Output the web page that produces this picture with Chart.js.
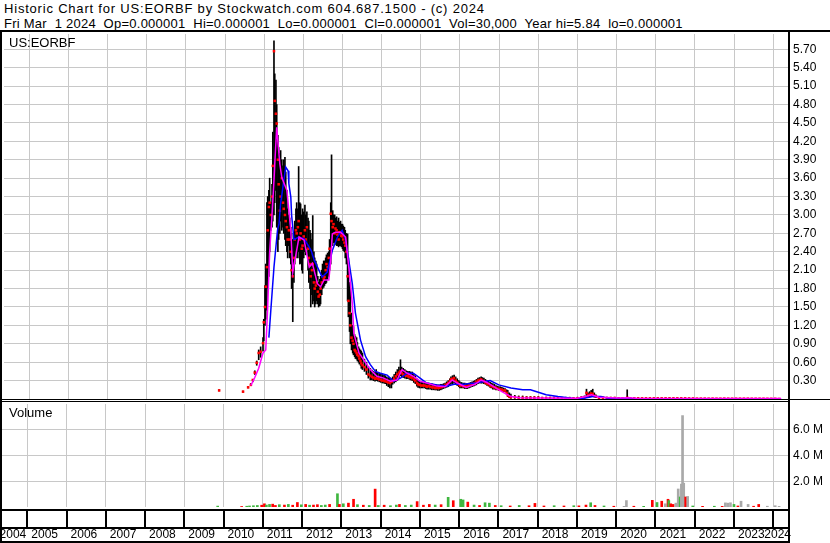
<!DOCTYPE html>
<html>
<head>
<meta charset="utf-8">
<script src="https://cdn.jsdelivr.net/npm/chart.js@4.4.1/dist/chart.umd.min.js"></script>
<style>
  body { margin: 0; background: #fff; }
  #wrap { position: relative; width: 830px; height: 543px; overflow: hidden; background: #fff; font-family: 'Liberation Sans', Arial, sans-serif; }
  .head { position: absolute; left: 4px; font-size: 13px; line-height: 15px; white-space: pre; color: #000; }
  #head1 { top: 1px; letter-spacing: 0.8px; }
  #head2 { top: 16px; letter-spacing: 0.25px; }
  canvas { position: absolute; left: 0; }
  #priceChart { top: 30px; }
  #volChart { top: 403px; }
</style>
</head>
<body>
<div id="wrap">
  <div class="head" id="head1">Historic Chart for US:EORBF by Stockwatch.com 604.687.1500 - (c) 2024</div>
  <div class="head" id="head2">Fri Mar  1 2024  Op=0.000001  Hi=0.000001  Lo=0.000001  Cl=0.000001  Vol=30,000  Year hi=5.84  lo=0.000001</div>
  <canvas id="priceChart" width="830" height="373"></canvas>
  <canvas id="volChart" width="830" height="140"></canvas>
</div>
<script>
/* Chart data (dates as decimal years). */
const yearLines = [2005, 2006, 2007, 2008, 2009, 2010, 2011, 2012, 2013, 2014, 2015, 2016, 2017, 2018, 2019, 2020, 2021, 2022, 2023, 2024];
const yearLabels = ['2004', '2005', '2006', '2007', '2008', '2009', '2010', '2011', '2012', '2013', '2014', '2015', '2016', '2017', '2018', '2019', '2020', '2021', '2022', '2023', '2024'];
const priceTicks = [0.3, 0.6, 0.9, 1.2, 1.5, 1.8, 2.1, 2.4, 2.7, 3.0, 3.3, 3.6, 3.9, 4.2, 4.5, 4.8, 5.1, 5.4, 5.7];
const volumeTicks = [2, 4, 6];

const barDates = [
	2009.85, 2010.46, 2010.59, 2010.66, 2010.71, 2010.76, 2010.81, 2010.86, 2010.91, 2010.97,
	2010.99, 2011.02, 2011.04, 2011.07, 2011.09, 2011.12, 2011.14, 2011.17, 2011.20, 2011.22,
	2011.25, 2011.27, 2011.30, 2011.32, 2011.35, 2011.37, 2011.40, 2011.42, 2011.45, 2011.48,
	2011.50, 2011.53, 2011.55, 2011.58, 2011.60, 2011.63, 2011.65, 2011.68, 2011.70, 2011.73,
	2011.76, 2011.78, 2011.81, 2011.83, 2011.86, 2011.88, 2011.91, 2011.93, 2011.96, 2011.98,
	2012.01, 2012.04, 2012.06, 2012.09, 2012.12, 2012.14, 2012.17, 2012.19, 2012.22, 2012.24,
	2012.27, 2012.29, 2012.32, 2012.34, 2012.37, 2012.39, 2012.42, 2012.44, 2012.47, 2012.49,
	2012.52, 2012.54, 2012.57, 2012.59, 2012.62, 2012.65, 2012.67, 2012.70, 2012.72, 2012.75,
	2012.77, 2012.80, 2012.82, 2012.85, 2012.87, 2012.90, 2012.92, 2012.95, 2012.97, 2013.00,
	2013.02, 2013.05, 2013.07, 2013.10, 2013.13, 2013.15, 2013.18, 2013.20, 2013.23, 2013.26,
	2013.28, 2013.31, 2013.33, 2013.36, 2013.38, 2013.41, 2013.43, 2013.46, 2013.48, 2013.51,
	2013.56, 2013.61, 2013.66, 2013.71, 2013.75, 2013.79, 2013.83, 2013.86, 2013.90, 2013.94,
	2013.98, 2014.02, 2014.06, 2014.09, 2014.13, 2014.17, 2014.21, 2014.25, 2014.28, 2014.32,
	2014.36, 2014.40, 2014.44, 2014.48, 2014.51, 2014.55, 2014.59, 2014.63, 2014.67, 2014.71,
	2014.74, 2014.78, 2014.82, 2014.86, 2014.90, 2014.93, 2014.97, 2015.01, 2015.05, 2015.09,
	2015.13, 2015.16, 2015.20, 2015.24, 2015.28, 2015.32, 2015.36, 2015.39, 2015.43, 2015.47,
	2015.51, 2015.54, 2015.58, 2015.62, 2015.66, 2015.70, 2015.74, 2015.77, 2015.81, 2015.85,
	2015.89, 2015.93, 2015.97, 2016.00, 2016.04, 2016.08, 2016.12, 2016.16, 2016.19, 2016.23,
	2016.27, 2016.31, 2016.35, 2016.38, 2016.42, 2016.46, 2016.50, 2016.54, 2016.57, 2016.61,
	2016.65, 2016.69, 2016.73, 2016.77, 2016.80, 2016.84, 2016.88, 2016.92, 2016.96, 2016.99,
	2017.03, 2017.07, 2017.11, 2017.15, 2017.19, 2017.22, 2017.26, 2017.30, 2017.40, 2017.50,
	2017.60, 2017.70, 2017.80, 2017.90, 2018.00, 2018.10, 2018.20, 2018.30, 2018.40, 2018.50,
	2018.60, 2018.70, 2018.80, 2018.90, 2019.00, 2019.10, 2019.18, 2019.23, 2019.27, 2019.31,
	2019.35, 2019.39, 2019.43, 2019.47, 2019.55, 2019.65, 2019.75, 2019.85, 2019.95, 2020.05,
	2020.15, 2020.27, 2020.35, 2020.45, 2020.55, 2020.65, 2020.75, 2020.85, 2020.95, 2021.05,
	2021.15, 2021.25, 2021.35, 2021.45, 2021.55, 2021.65, 2021.75, 2021.85, 2021.95, 2022.05,
	2022.15, 2022.25, 2022.35, 2022.45, 2022.55, 2022.65, 2022.75, 2022.85, 2022.95, 2023.05,
	2023.15, 2023.25, 2023.35, 2023.45, 2023.55, 2023.65, 2023.75, 2023.85, 2023.95, 2024.05,
	2024.15
];
const barHigh = [
	0.15, 0.13, 0.20, 0.25, 0.32, 0.46, 0.62, 0.80, 0.85, 1.00,
	1.30, 1.85, 2.20, 3.20, 3.30, 3.40, 3.60, 3.20, 3.50, 4.35,
	5.84, 5.30, 5.20, 4.80, 4.30, 4.10, 4.00, 4.05, 3.90, 3.80,
	3.90, 3.94, 3.70, 3.40, 3.10, 3.00, 2.95, 2.80, 2.70, 2.60,
	2.70, 2.90, 3.10, 3.20, 3.10, 3.79, 3.20, 3.18, 3.00, 3.10,
	3.05, 3.16, 3.00, 3.05, 2.95, 2.90, 2.75, 2.70, 2.60, 2.99,
	2.40, 2.30, 2.25, 2.20, 2.00, 1.90, 1.95, 2.00, 2.10, 2.20,
	2.25, 2.25, 2.30, 2.35, 2.38, 2.40, 2.60, 3.20, 3.98, 3.07,
	3.00, 3.00, 2.95, 2.97, 2.90, 2.95, 2.88, 2.90, 2.85, 2.85,
	2.82, 2.80, 2.75, 2.70, 2.69, 2.30, 1.90, 1.88, 1.40, 1.20,
	1.18, 1.05, 1.02, 1.00, 0.92, 0.85, 0.82, 0.80, 0.78, 0.75,
	0.65, 0.60, 0.53, 0.50, 0.47, 0.45, 0.44, 0.48, 0.43, 0.42,
	0.41, 0.40, 0.39, 0.38, 0.36, 0.35, 0.34, 0.33, 0.36, 0.40,
	0.44, 0.48, 0.52, 0.64, 0.52, 0.50, 0.48, 0.46, 0.45, 0.45,
	0.44, 0.44, 0.40, 0.38, 0.33, 0.30, 0.29, 0.28, 0.28, 0.27,
	0.27, 0.26, 0.26, 0.25, 0.25, 0.24, 0.24, 0.23, 0.23, 0.23,
	0.24, 0.24, 0.25, 0.26, 0.28, 0.30, 0.33, 0.36, 0.38, 0.39,
	0.36, 0.33, 0.30, 0.28, 0.27, 0.26, 0.26, 0.25, 0.25, 0.26,
	0.27, 0.28, 0.29, 0.30, 0.32, 0.34, 0.35, 0.36, 0.35, 0.34,
	0.32, 0.30, 0.29, 0.27, 0.26, 0.25, 0.24, 0.22, 0.21, 0.20,
	0.20, 0.19, 0.18, 0.17, 0.15, 0.14, 0.10, 0.08, 0.06, 0.05,
	0.05, 0.04, 0.04, 0.04, 0.04, 0.03, 0.03, 0.03, 0.03, 0.03,
	0.03, 0.03, 0.03, 0.02, 0.03, 0.04, 0.05, 0.16, 0.10, 0.12,
	0.14, 0.16, 0.10, 0.07, 0.04, 0.03, 0.03, 0.03, 0.03, 0.02,
	0.02, 0.15, 0.02, 0.02, 0.02, 0.02, 0.02, 0.02, 0.02, 0.02,
	0.02, 0.02, 0.02, 0.02, 0.02, 0.02, 0.02, 0.015, 0.015, 0.012,
	0.012, 0.012, 0.011, 0.012, 0.010, 0.011, 0.012, 0.010, 0.011, 0.010,
	0.010, 0.011, 0.010, 0.009, 0.010, 0.009, 0.008, 0.009, 0.008, 0.008,
	0.002
];
const barLow = [
	0.13, 0.11, 0.18, 0.22, 0.28, 0.40, 0.55, 0.64, 0.68, 0.78,
	0.95, 1.20, 1.30, 1.45, 1.80, 2.00, 2.40, 2.75, 2.80, 2.90,
	3.00, 3.20, 3.40, 2.80, 2.40, 2.60, 2.70, 2.90, 2.75, 2.80,
	2.70, 2.60, 2.50, 2.40, 2.30, 2.50, 2.30, 2.20, 1.80, 1.26,
	1.90, 2.20, 2.30, 2.40, 2.30, 2.40, 2.20, 2.21, 2.10, 2.05,
	2.30, 2.40, 2.35, 2.45, 2.10, 1.90, 1.80, 1.50, 1.70, 1.55,
	1.60, 1.50, 1.55, 1.60, 1.55, 1.50, 1.52, 1.55, 1.70, 1.80,
	1.82, 1.85, 1.88, 1.90, 1.95, 2.00, 2.10, 2.20, 2.60, 2.50,
	2.55, 2.55, 2.52, 2.50, 2.50, 2.48, 2.50, 2.50, 2.48, 2.45,
	2.42, 2.40, 2.30, 2.20, 1.60, 1.34, 1.10, 0.90, 0.80, 0.75,
	0.72, 0.69, 0.66, 0.65, 0.62, 0.60, 0.57, 0.55, 0.50, 0.48,
	0.45, 0.40, 0.34, 0.31, 0.31, 0.30, 0.29, 0.30, 0.29, 0.28,
	0.27, 0.26, 0.26, 0.25, 0.22, 0.20, 0.18, 0.18, 0.24, 0.26,
	0.28, 0.30, 0.34, 0.38, 0.36, 0.35, 0.34, 0.33, 0.33, 0.32,
	0.31, 0.30, 0.27, 0.25, 0.21, 0.19, 0.18, 0.18, 0.18, 0.18,
	0.17, 0.16, 0.16, 0.16, 0.15, 0.15, 0.15, 0.15, 0.14, 0.14,
	0.15, 0.16, 0.17, 0.18, 0.19, 0.20, 0.22, 0.24, 0.25, 0.26,
	0.24, 0.22, 0.20, 0.18, 0.18, 0.18, 0.17, 0.17, 0.17, 0.18,
	0.19, 0.20, 0.21, 0.22, 0.23, 0.25, 0.26, 0.26, 0.26, 0.25,
	0.24, 0.22, 0.21, 0.19, 0.18, 0.16, 0.16, 0.15, 0.15, 0.14,
	0.14, 0.13, 0.12, 0.12, 0.08, 0.04, 0.02, 0.01, 0.01, 0.01,
	0.01, 0.01, 0.01, 0.005, 0.005, 0.005, 0.005, 0.005, 0.005, 0.005,
	0.005, 0.005, 0.005, 0.005, 0.005, 0.005, 0.01, 0.03, 0.03, 0.03,
	0.04, 0.04, 0.03, 0.02, 0.01, 0.005, 0.005, 0.005, 0.005, 0.005,
	0.005, 0.01, 0.005, 0.005, 0.005, 0.005, 0.005, 0.004, 0.004, 0.004,
	0.004, 0.004, 0.004, 0.004, 0.003, 0.003, 0.003, 0.003, 0.003, 0.002,
	0.002, 0.002, 0.002, 0.002, 0.002, 0.002, 0.002, 0.002, 0.002, 0.002,
	0.001, 0.001, 0.001, 0.001, 0.001, 0.001, 0.001, 0.001, 0.001, 0.001,
	0.000001
];
const barClose = [
	0.14, 0.12, 0.19, 0.23, 0.31, 0.43, 0.59, 0.75, 0.77, 0.91,
	1.25, 1.50, 1.83, 2.15, 2.75, 3.13, 3.20, 3.00, 3.30, 3.80,
	5.67, 4.86, 4.65, 4.49, 3.90, 3.50, 3.07, 3.30, 3.60, 3.20,
	3.10, 3.00, 2.90, 2.80, 2.60, 2.75, 2.60, 2.40, 2.10, 2.00,
	2.30, 2.60, 2.75, 2.70, 2.80, 2.90, 2.60, 2.70, 2.45, 2.50,
	2.65, 2.75, 2.60, 2.80, 2.45, 2.30, 2.20, 2.00, 2.10, 2.20,
	1.90, 1.80, 1.85, 1.90, 1.75, 1.67, 1.70, 1.80, 1.90, 2.00,
	1.95, 1.99, 2.10, 2.20, 2.15, 2.30, 2.45, 3.02, 2.90, 2.80,
	2.85, 2.70, 2.78, 2.75, 2.68, 2.60, 2.72, 2.70, 2.66, 2.65,
	2.60, 2.55, 2.50, 2.40, 2.00, 1.60, 1.40, 1.20, 1.00, 0.95,
	0.90, 0.80, 0.78, 0.75, 0.72, 0.70, 0.66, 0.62, 0.58, 0.55,
	0.52, 0.48, 0.40, 0.38, 0.36, 0.35, 0.33, 0.34, 0.33, 0.32,
	0.31, 0.30, 0.30, 0.29, 0.28, 0.27, 0.26, 0.28, 0.30, 0.33,
	0.37, 0.40, 0.43, 0.45, 0.42, 0.40, 0.39, 0.38, 0.37, 0.36,
	0.35, 0.35, 0.32, 0.30, 0.26, 0.24, 0.23, 0.22, 0.22, 0.22,
	0.21, 0.20, 0.21, 0.20, 0.19, 0.19, 0.18, 0.18, 0.18, 0.18,
	0.19, 0.20, 0.21, 0.22, 0.24, 0.26, 0.29, 0.32, 0.33, 0.34,
	0.30, 0.27, 0.24, 0.22, 0.22, 0.21, 0.21, 0.20, 0.21, 0.22,
	0.23, 0.24, 0.25, 0.26, 0.28, 0.30, 0.31, 0.32, 0.30, 0.29,
	0.27, 0.25, 0.24, 0.22, 0.21, 0.20, 0.19, 0.18, 0.17, 0.16,
	0.16, 0.15, 0.14, 0.14, 0.10, 0.06, 0.04, 0.03, 0.03, 0.02,
	0.02, 0.02, 0.02, 0.02, 0.02, 0.015, 0.015, 0.015, 0.015, 0.01,
	0.01, 0.01, 0.01, 0.01, 0.01, 0.02, 0.03, 0.10, 0.06, 0.07,
	0.09, 0.08, 0.05, 0.04, 0.02, 0.02, 0.015, 0.015, 0.015, 0.01,
	0.01, 0.02, 0.01, 0.01, 0.01, 0.01, 0.01, 0.01, 0.01, 0.01,
	0.01, 0.01, 0.01, 0.01, 0.01, 0.01, 0.01, 0.008, 0.008, 0.006,
	0.006, 0.006, 0.005, 0.006, 0.005, 0.005, 0.006, 0.005, 0.005, 0.005,
	0.005, 0.005, 0.005, 0.004, 0.004, 0.004, 0.004, 0.003, 0.003, 0.003,
	0.000001
];

// Short (magenta) and long (blue) moving averages as drawn on the picture
const fastDates = [
	2010.66, 2010.76, 2010.86, 2010.97, 2011.04, 2011.09, 2011.14, 2011.20, 2011.25, 2011.27,
	2011.32, 2011.35, 2011.40, 2011.45, 2011.58, 2011.63, 2011.68, 2011.73, 2011.89, 2012.02,
	2012.15, 2012.23, 2012.36, 2012.44, 2012.53, 2012.65, 2012.70, 2012.74, 2012.82, 2012.95,
	2013.08, 2013.16, 2013.25, 2013.29, 2013.42, 2013.54, 2013.71, 2013.88, 2014.05, 2014.22,
	2014.39, 2014.52, 2014.65, 2014.81, 2014.98, 2015.15, 2015.41, 2015.62, 2015.80, 2015.93,
	2016.16, 2016.38, 2016.54, 2016.69, 2016.84, 2017.07, 2017.30, 2017.53, 2018.00, 2019.00,
	2019.20, 2019.36, 2019.55, 2020.00, 2020.30, 2020.50, 2024.20
];
const fastValues = [
	0.22, 0.35, 0.50, 0.75, 0.80, 1.50, 2.40, 3.00, 3.56, 3.83,
	4.43, 4.20, 3.83, 3.61, 3.40, 3.07, 2.75, 2.07, 2.64, 2.59,
	2.15, 2.21, 1.88, 1.83, 1.94, 1.94, 2.26, 2.69, 2.72, 2.72,
	2.64, 2.15, 1.56, 1.07, 0.75, 0.64, 0.48, 0.37, 0.34, 0.29,
	0.31, 0.48, 0.42, 0.37, 0.29, 0.26, 0.21, 0.20, 0.31, 0.26,
	0.19, 0.24, 0.31, 0.27, 0.21, 0.12, 0.04, 0.02, 0.015, 0.012,
	0.04, 0.07, 0.03, 0.015, 0.02, 0.012, 0.008
];
const slowDates = [
	2011.12, 2011.17, 2011.25, 2011.34, 2011.38, 2011.42, 2011.55, 2011.61, 2011.63, 2011.68,
	2011.70, 2011.76, 2011.89, 2012.02, 2012.10, 2012.20, 2012.28, 2012.36, 2012.48, 2012.61,
	2012.74, 2012.87, 2012.99, 2013.08, 2013.16, 2013.25, 2013.33, 2013.46, 2013.59, 2013.71,
	2013.84, 2013.97, 2014.14, 2014.31, 2014.48, 2014.65, 2014.81, 2014.98, 2015.15, 2015.41,
	2015.66, 2015.85, 2016.10, 2016.40, 2016.77, 2016.99, 2017.30, 2017.60, 2017.80, 2018.00,
	2018.20, 2018.50, 2018.90, 2019.10, 2019.40, 2019.60, 2019.80, 2024.20
];
const slowValues = [
	1.00, 1.45, 2.15, 2.75, 2.86, 3.19, 3.78, 3.72, 3.51, 3.29,
	3.00, 2.60, 2.64, 2.61, 2.53, 2.42, 2.26, 2.15, 1.99, 2.07,
	2.42, 2.64, 2.75, 2.59, 2.26, 1.88, 1.40, 0.96, 0.69, 0.56,
	0.45, 0.42, 0.39, 0.29, 0.34, 0.42, 0.42, 0.34, 0.26, 0.23,
	0.21, 0.24, 0.24, 0.26, 0.30, 0.23, 0.18, 0.15, 0.15, 0.11,
	0.07, 0.04, 0.01, 0.005, 0.04, 0.04, 0.01, 0.005
];

// Volume in millions of shares; direction of the day (up / down / flat)
const volDates = [
	2009.85, 2010.46, 2010.59, 2010.66, 2010.76, 2010.86, 2010.97, 2011.04, 2011.09, 2011.17,
	2011.25, 2011.32, 2011.42, 2011.55, 2011.65, 2011.76, 2011.88, 2011.98, 2012.09, 2012.19,
	2012.29, 2012.39, 2012.49, 2012.59, 2012.70, 2012.90, 2012.95, 2013.05, 2013.18, 2013.31,
	2013.41, 2013.56, 2013.71, 2013.86, 2013.94, 2014.09, 2014.25, 2014.40, 2014.48, 2014.63,
	2014.78, 2014.93, 2015.09, 2015.24, 2015.39, 2015.54, 2015.72, 2015.85, 2016.04, 2016.10,
	2016.22, 2016.38, 2016.52, 2016.66, 2016.77, 2016.92, 2017.07, 2017.30, 2017.53, 2017.78,
	2017.93, 2018.16, 2018.42, 2018.67, 2018.92, 2019.05, 2019.23, 2019.35, 2019.46, 2019.69,
	2019.94, 2020.20, 2020.26, 2020.45, 2020.70, 2020.92, 2021.04, 2021.16, 2021.25, 2021.32,
	2021.34, 2021.39, 2021.45, 2021.52, 2021.58, 2021.63, 2021.66, 2021.69, 2021.72, 2021.77,
	2021.82, 2021.95, 2022.20, 2022.50, 2022.70, 2022.78, 2022.84, 2022.91, 2023.00, 2023.10,
	2023.18, 2023.36, 2023.50, 2023.63, 2023.85, 2024.05, 2024.15
];
const volValues = [
	0.07, 0.04, 0.06, 0.08, 0.10, 0.12, 0.14, 0.25, 0.15, 0.20,
	0.22, 0.12, 0.18, 0.15, 0.20, 0.14, 0.35, 0.17, 0.20, 0.14,
	0.15, 0.18, 0.12, 0.15, 0.20, 1.03, 0.20, 0.25, 0.30, 0.60,
	0.18, 0.14, 0.12, 1.39, 0.12, 0.14, 0.10, 0.15, 0.20, 0.12,
	0.15, 0.42, 0.14, 0.20, 0.15, 0.18, 0.75, 0.49, 0.60, 0.55,
	0.38, 0.15, 0.12, 0.33, 0.30, 0.12, 0.10, 0.08, 0.12, 0.10,
	0.28, 0.08, 0.10, 0.08, 0.10, 0.09, 0.15, 0.33, 0.12, 0.08,
	0.06, 0.05, 0.50, 0.06, 0.05, 0.52, 0.35, 0.45, 0.25, 0.60,
	0.50, 0.25, 0.20, 0.30, 1.40, 0.78, 1.78, 7.10, 1.85, 0.78,
	0.82, 0.08, 0.05, 0.06, 0.05, 0.32, 0.30, 0.33, 0.20, 0.08,
	0.45, 0.20, 0.06, 0.20, 0.06, 0.10, 0.05
];
const volDir = [
	'up', 'down', 'up', 'up', 'up', 'up', 'down', 'down', 'up', 'up',
	'down', 'down', 'up', 'down', 'up', 'down', 'down', 'up', 'down', 'up',
	'down', 'down', 'up', 'up', 'down', 'up', 'down', 'up', 'down', 'down',
	'up', 'down', 'up', 'down', 'up', 'down', 'up', 'up', 'down', 'up',
	'up', 'down', 'down', 'down', 'up', 'down', 'up', 'down', 'up', 'up',
	'down', 'up', 'down', 'up', 'up', 'down', 'up', 'down', 'up', 'down',
	'down', 'down', 'up', 'down', 'up', 'down', 'down', 'up', 'down', 'up',
	'down', 'flat', 'flat', 'down', 'up', 'down', 'up', 'down', 'flat', 'down',
	'up', 'down', 'down', 'flat', 'flat', 'up', 'flat', 'flat', 'flat', 'down',
	'flat', 'up', 'down', 'up', 'down', 'flat', 'flat', 'flat', 'up', 'down',
	'flat', 'flat', 'down', 'down', 'flat', 'flat', 'flat'
];

// Colours
const gridColor = '#c8c8c8';
const dirColors = { up: '#3fb63f', down: '#ff0000', flat: '#a9a9a9' };
const fontFamily = '"Liberation Sans", Arial, sans-serif';

// Shared x axis: decimal years, grid line at every 1st of January
function yearAxis() {
	return {
		type: 'linear',
		min: 2004.356,
		max: 2024.376,
		offset: false,
		grid: { color: gridColor, drawTicks: false, offset: false },
		border: { display: false },
		ticks: { display: false },
		afterBuildTicks: (s) => { s.ticks = yearLines.map((v) => ({ value: v })); },
		afterFit: (s) => { s.height = 0; s.paddingLeft = 0; s.paddingRight = 0; },
	};
}

function rightAxis(max, ticks, fmt) {
	return {
		position: 'right',
		min: 0,
		max: max,
		grid: { color: gridColor, drawTicks: false },
		border: { display: false },
		ticks: { padding: 5, color: '#000', font: { family: fontFamily, size: 12 }, callback: fmt },
		afterBuildTicks: (s) => { s.ticks = ticks.map((v) => ({ value: v })); },
		afterFit: (s) => { s.width = 42; s.paddingTop = 0; s.paddingBottom = 0; },
	};
}

const baseOptions = {
	responsive: false,
	animation: false,
	devicePixelRatio: 1,
	events: [],
	plugins: { legend: { display: false }, tooltip: { enabled: false } },
};

/* Price panel frame: rules, borders and the symbol label. */
const priceFrame = {
	id: 'priceFrame',
	afterDraw(chart) {
		const ctx = chart.ctx;
		const a = chart.chartArea;
		const b = Math.round(a.bottom);
		ctx.save();
		ctx.fillStyle = '#000';
		ctx.fillRect(0, 0, chart.width, 2);
		ctx.fillRect(0, 0, 2, chart.height);
		ctx.fillRect(a.right, 0, 2, chart.height);
		ctx.fillRect(0, b, chart.width, 1);
		ctx.fillRect(0, b + 2, a.right, 1);
		ctx.font = '13px ' + fontFamily;
		ctx.textBaseline = 'middle';
		ctx.fillText('US:EORBF', 9, a.top + 9);
		ctx.restore();
	},
};

/* Volume panel frame plus the year strip under it. */
const volumeFrame = {
	id: 'volumeFrame',
	afterDraw(chart) {
		const ctx = chart.ctx;
		const a = chart.chartArea;
		const x = chart.scales.x;
		const rowTop = Math.round(a.bottom) + 2;
		const rowMid = rowTop + 18;
		const rowEnd = rowMid + 14;
		ctx.save();
		ctx.fillStyle = '#000';
		ctx.fillRect(0, 0, 2, chart.height);
		ctx.fillRect(a.right, 0, 2, chart.height);
		ctx.fillRect(0, rowTop, a.right, 2);
		yearLines.forEach((v) => {
			const px = Math.round(x.getPixelForValue(v));
			ctx.fillRect(px - 1, rowTop, 2, rowMid - rowTop);
		});
		ctx.fillRect(0, rowMid, a.right, 2);
		ctx.fillRect(0, rowEnd, a.right, 2);

		ctx.font = '12px ' + fontFamily;
		ctx.textBaseline = 'middle';
		const ty = (rowMid + rowEnd) / 2 + 1;
		yearLabels.forEach((label, i) => {
			const yr = parseInt(label, 10);
			if (i === 0) {
				ctx.textAlign = 'right';
				ctx.fillText(label, x.getPixelForValue(yr + 1) - 1, ty);
			} else if (i === yearLabels.length - 1) {
				ctx.textAlign = 'right';
				ctx.fillText(label, a.right + 3, ty);
			} else {
				ctx.textAlign = 'left';
				ctx.fillText(label, x.getPixelForValue(yr) + 4, ty);
			}
		});
		ctx.textAlign = 'left';
		ctx.font = '13px ' + fontFamily;
		ctx.fillText('Volume', 9, a.top + 9);
		ctx.restore();
	},
};

// Price chart
new Chart(document.getElementById('priceChart'), {
	type: 'bar',
	data: {
		datasets: [
			{
				type: 'line',
				data: fastDates.map((d, i) => ({ x: d, y: fastValues[i] })),
				borderColor: '#ff00ff',
				borderWidth: 1.5,
				pointRadius: 0,
				order: 0,
			},
			{
				type: 'line',
				data: slowDates.map((d, i) => ({ x: d, y: slowValues[i] })),
				borderColor: '#0000ff',
				borderWidth: 1.5,
				pointRadius: 0,
				order: 1,
			},
			{
				type: 'line',
				data: barDates.map((d, i) => ({ x: d, y: barClose[i] })),
				showLine: false,
				pointStyle: 'rect',
				pointRadius: 1.8,
				pointBorderWidth: 0,
				pointBackgroundColor: '#ff0000',
				order: 2,
			},
			{
				type: 'bar',
				data: barDates.map((d, i) => ({ x: d, y: [barLow[i], barHigh[i]] })),
				backgroundColor: '#000',
				barThickness: 1,
				order: 3,
			},
		],
	},
	options: {
		...baseOptions,
		layout: { padding: { left: 2, right: 0, top: 3, bottom: 3.5 } },
		scales: {
			x: yearAxis(),
			y: rightAxis(5.95, priceTicks, (v) => Number(v).toFixed(2)),
		},
	},
	plugins: [priceFrame],
});

// Volume chart
new Chart(document.getElementById('volChart'), {
	type: 'bar',
	data: {
		datasets: [
			{
				data: volDates.map((d, i) => ({ x: d, y: volValues[i] })),
				backgroundColor: volDir.map((k) => dirColors[k]),
				barThickness: 2,
			},
		],
	},
	options: {
		...baseOptions,
		layout: { padding: { left: 2, right: 0, top: 1, bottom: 36 } },
		scales: {
			x: yearAxis(),
			y: rightAxis(8, volumeTicks, (v) => Number(v).toFixed(1) + ' M'),
		},
	},
	plugins: [volumeFrame],
});
</script>
</body>
</html>
